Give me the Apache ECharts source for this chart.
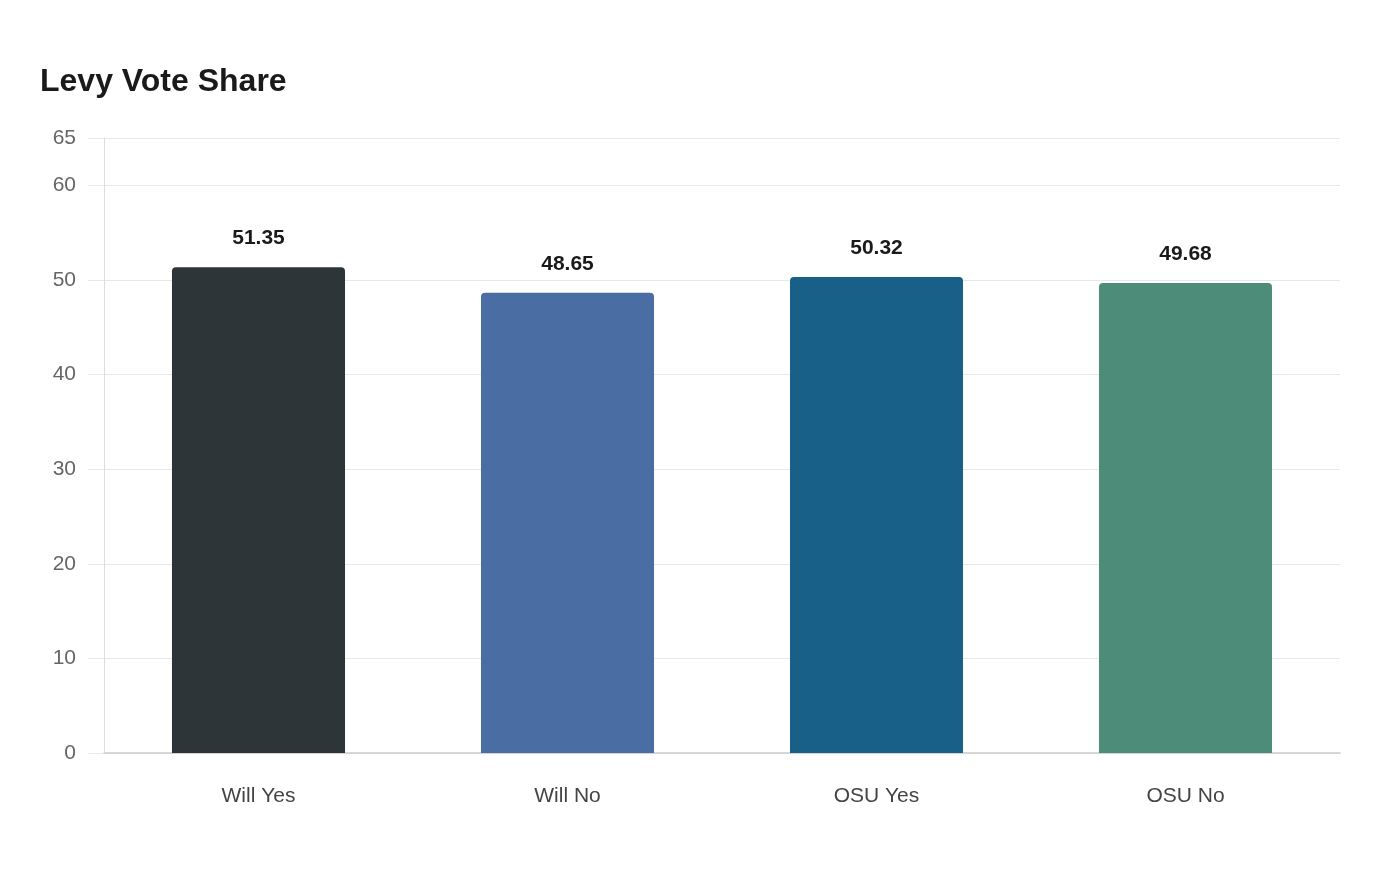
<!DOCTYPE html>
<html>
<head>
<meta charset="utf-8">
<script src="https://cdn.jsdelivr.net/npm/echarts@6/dist/echarts.min.js"></script>
<style>
  html, body { margin: 0; padding: 0; background: #fff; }
  #chart { width: 1400px; height: 880px; }
</style>
</head>
<body>
<div id="chart"></div>
<script>
const categories = ["Will Yes", "Will No", "OSU Yes", "OSU No"];
const voteShare = [51.35, 48.65, 50.32, 49.68];
const barColors = ["#2d3538", "#4a6ea4", "#186087", "#4e8c7a"];

const FONT = "Liberation Sans";

const chart = echarts.init(document.getElementById("chart"));

chart.setOption({
  animation: false,
  textStyle: { fontFamily: FONT },
  title: {
    text: "Levy Vote Share",
    left: 35,
    top: 61,
    textStyle: {
      fontFamily: FONT,
      fontSize: 32,
      fontWeight: "bold",
      color: "#1a1a1a",
    },
  },
  grid: {
    left: 104,
    right: 60,
    top: 138,
    bottom: 127,
  },
  xAxis: {
    type: "category",
    data: categories,
    axisLine: { lineStyle: { color: "#cccccc", width: 1.5 } },
    axisTick: { show: false },
    axisLabel: {
      margin: 33,
      fontFamily: FONT,
      fontSize: 21,
      color: "#444444",
    },
  },
  yAxis: {
    type: "value",
    min: 0,
    max: 65,
    interval: 10,
    axisLine: { show: true, lineStyle: { color: "#dddddd" } },
    axisTick: { show: true, length: 16, lineStyle: { color: "#e8e8e8" } },
    splitLine: { lineStyle: { color: "#e8e8e8" } },
    axisLabel: {
      margin: 28,
      fontFamily: FONT,
      fontSize: 21,
      color: "#666666",
    },
  },
  series: [
    {
      type: "bar",
      barWidth: "56%",
      data: voteShare.map((v, i) => ({
        value: v,
        itemStyle: { color: barColors[i] },
      })),
      itemStyle: { borderRadius: [4, 4, 0, 0] },
      label: {
        show: true,
        position: "top",
        distance: 18,
        fontFamily: FONT,
        fontSize: 21,
        fontWeight: "bold",
        color: "#1a1a1a",
        formatter: (p) => p.value.toFixed(2),
      },
    },
  ],
});
</script>
</body>
</html>
